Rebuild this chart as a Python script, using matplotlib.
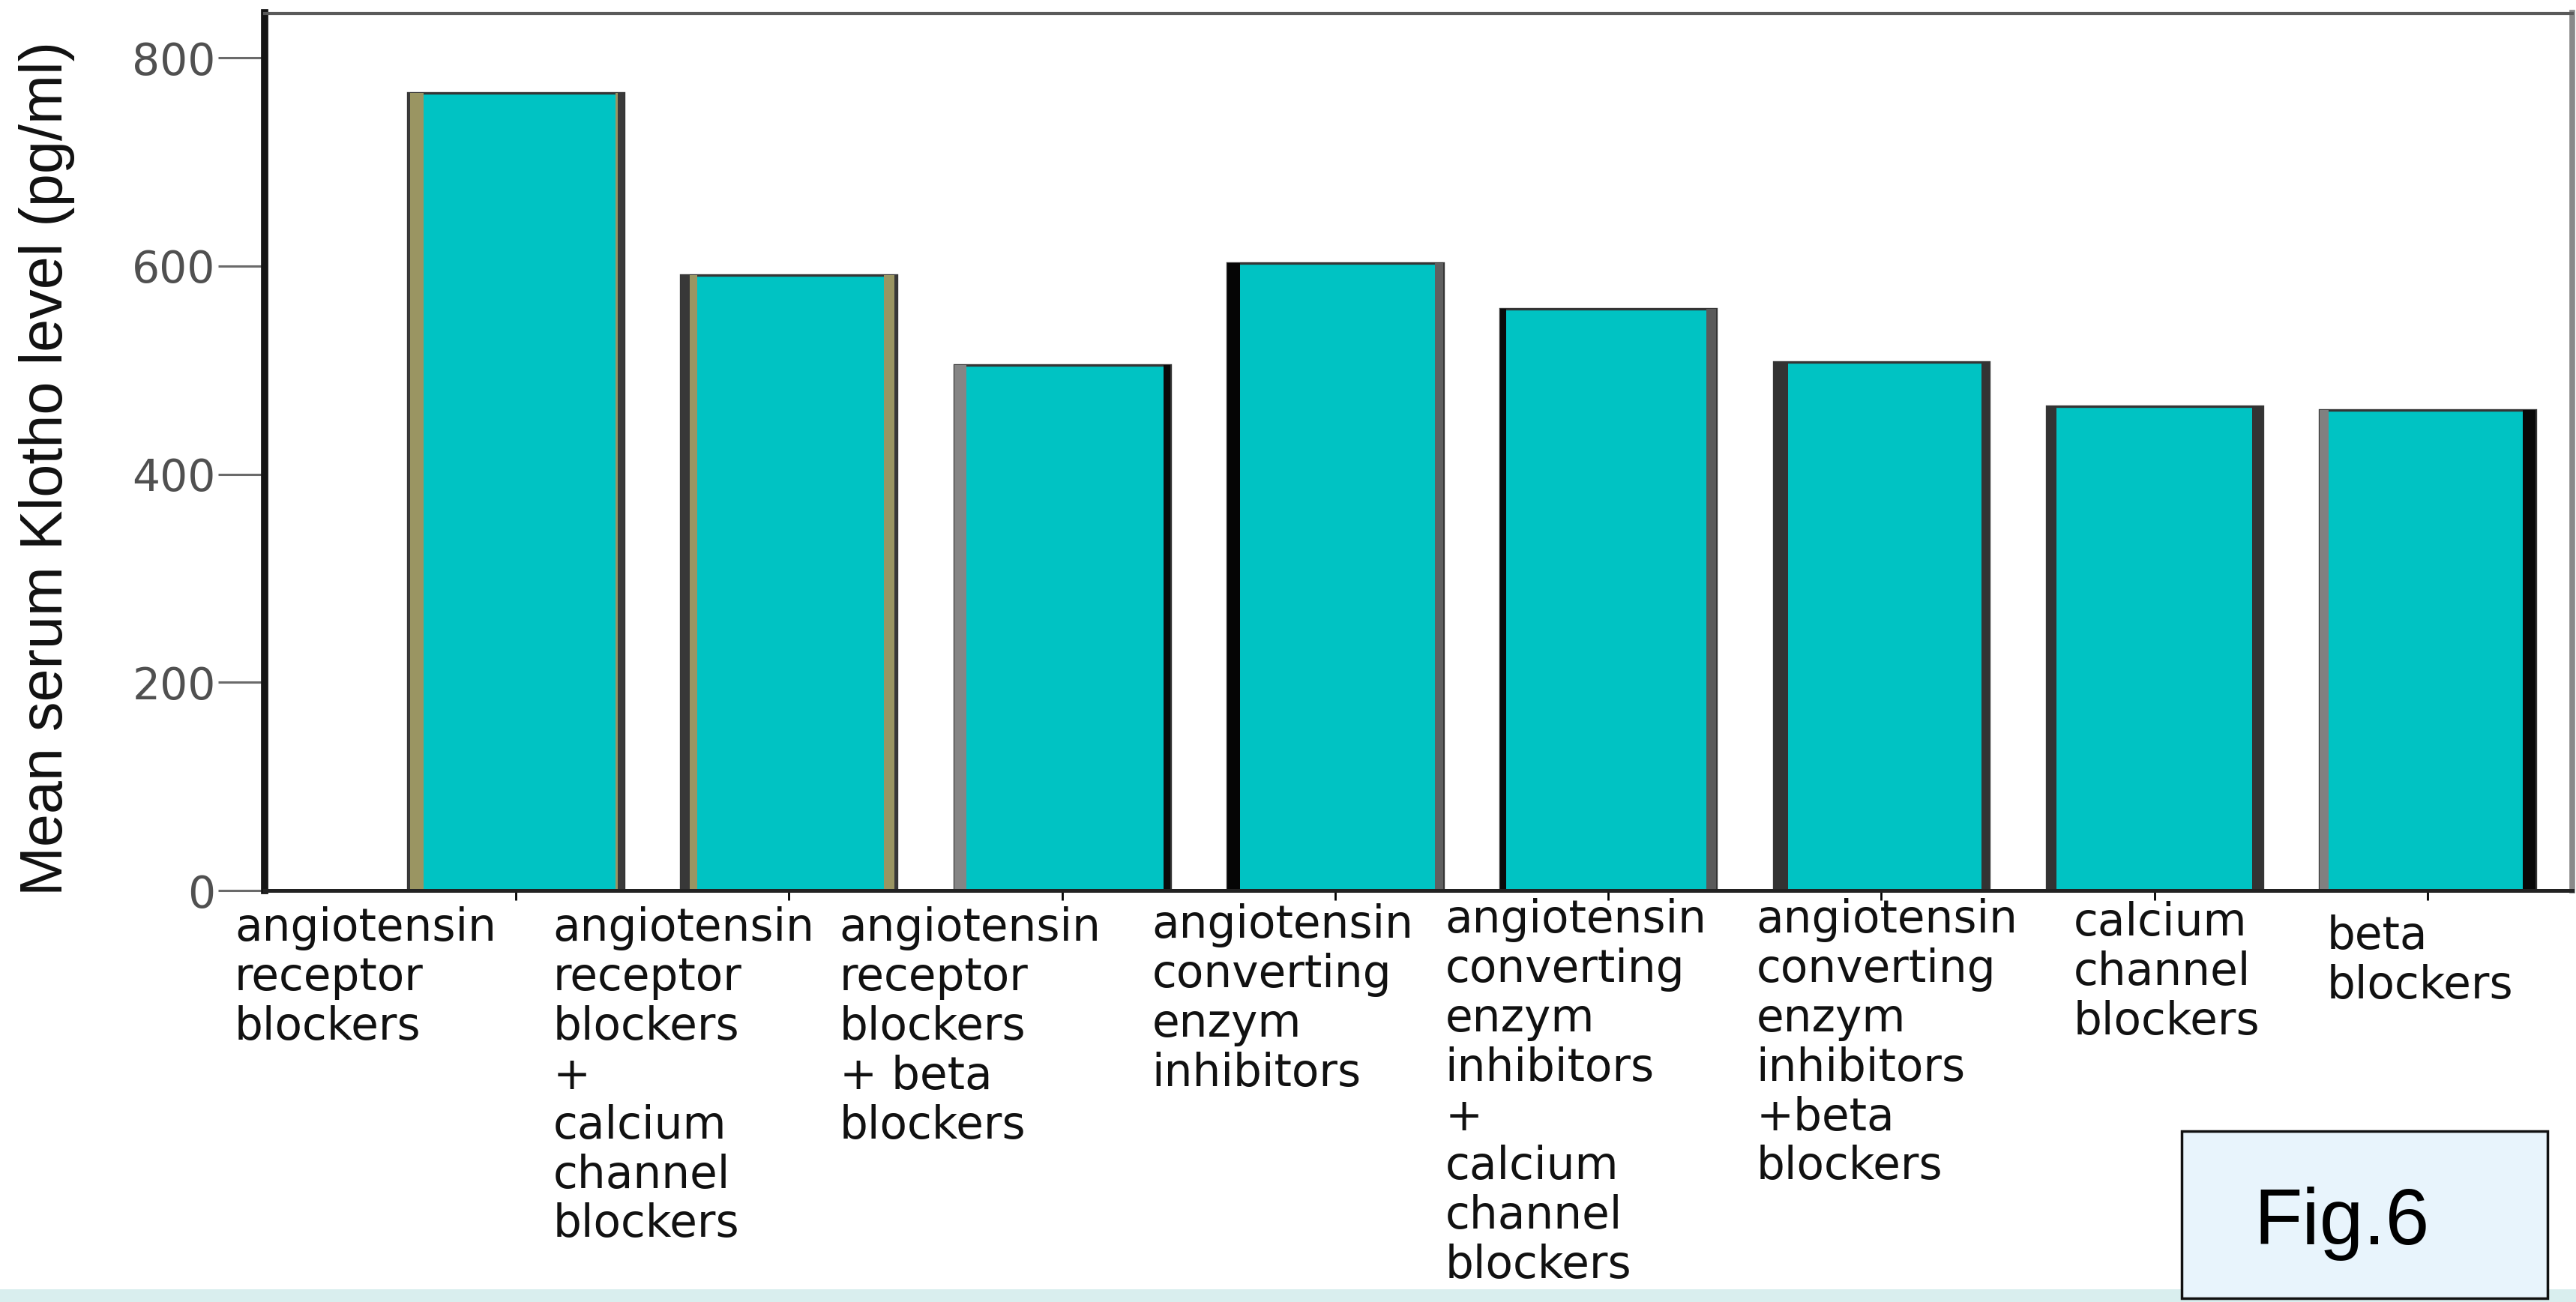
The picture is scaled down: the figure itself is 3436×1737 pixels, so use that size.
import matplotlib
matplotlib.use("Agg")
import matplotlib.pyplot as plt
from matplotlib.patches import Rectangle

# ---- data -------------------------------------------------------------
categories = [
    "angiotensin\nreceptor\nblockers",
    "angiotensin\nreceptor\nblockers\n+\ncalcium\nchannel\nblockers",
    "angiotensin\nreceptor\nblockers\n+ beta\nblockers",
    "angiotensin\nconverting\nenzym\ninhibitors",
    "angiotensin\nconverting\nenzym\ninhibitors\n+\ncalcium\nchannel\nblockers",
    "angiotensin\nconverting\nenzym\ninhibitors\n+beta\nblockers",
    "calcium\nchannel\nblockers",
    "beta\nblockers",
]
mean_klotho = [766, 591, 505, 603, 559, 508, 465, 462]
y_ticks = [0, 200, 400, 600, 800]
y_tick_labels = ["0", "200", "400", "600", "800"]
y_label = "Mean serum Klotho level (pg/ml)"
fig_label = "Fig.6"

# ---- styling ----------------------------------------------------------
W, H, DPI = 3437, 1737, 100
AX_L, AX_R, AX_T, AX_B = 353, 3431, 17.5, 1188
BAR_COLOR = "#00c3c3"
BAR_WIDTH = 0.79
OLIVE = "#9a9562"

# shaded side bands of each bar, listed from the outer edge inward (colour, px)
left_bands = [
    [("#3a3a3a", 3), (OLIVE, 18)],
    [("#383838", 12), (OLIVE, 10)],
    [("#858585", 16)],
    [("#050505", 17)],
    [("#0a0a0a", 8)],
    [("#333333", 19)],
    [("#333333", 13)],
    [("#808080", 12)],
]
right_bands = [
    [("#3a3a3a", 8), (OLIVE, 3)],
    [("#383838", 3), (OLIVE, 14)],
    [("#0a0a0a", 9)],
    [("#606060", 11)],
    [("#5a5a5a", 13)],
    [("#333333", 10)],
    [("#333333", 14)],
    [("#080808", 17)],
]
# horizontal shift of each category label (category units) and vertical nudge (px)
label_shift = [-1.03, -0.865, -0.815, -0.67, -0.598, -0.458, -0.296, -0.368]
label_dy_px = [0, 0, 0, -4, -11, -11, -7, 11]

fig = plt.figure(figsize=(W / DPI, H / DPI), dpi=DPI)
fig.patch.set_facecolor("white")

ax = fig.add_axes([AX_L / W, 1 - AX_B / H, (AX_R - AX_L) / W, (AX_B - AX_T) / H])
ax.set_facecolor("white")

x = list(range(len(categories)))
x_lo, x_hi = -0.92, 7.53
ax.set_xlim(x_lo, x_hi)
ax.set_ylim(0, 843)

ax.bar(x, mean_klotho, width=BAR_WIDTH, color=BAR_COLOR,
       edgecolor="#353535", linewidth=2.4, zorder=2)

# data units per pixel along x
upx = (x_hi - x_lo) / (AX_R - AX_L)
for i, v in enumerate(mean_klotho):
    edge = i - BAR_WIDTH / 2
    for col, px in left_bands[i]:
        ax.bar(edge, v, width=px * upx, align="edge", color=col,
               linewidth=0, zorder=3)
        edge += px * upx
    edge = i + BAR_WIDTH / 2
    for col, px in right_bands[i]:
        ax.bar(edge - px * upx, v, width=px * upx, align="edge", color=col,
               linewidth=0, zorder=3)
        edge -= px * upx

# ---- axes -------------------------------------------------------------
ax.set_yticks(y_ticks)
ax.set_yticklabels(y_tick_labels, family="DejaVu Sans")
ax.tick_params(axis="y", length=45, width=2.2, color="#6a6a6a",
               labelsize=42, labelcolor="#505050", pad=2)
ax.set_xticks(x)
ax.tick_params(axis="x", length=9, width=2, color="black",
               direction="out", labelbottom=False)

ax.spines["left"].set_linewidth(7)
ax.spines["left"].set_color("#151515")
ax.spines["bottom"].set_linewidth(3.6)
ax.spines["bottom"].set_color("#222222")
ax.spines["top"].set_linewidth(3)
ax.spines["top"].set_color("#5a5a5a")
ax.spines["right"].set_linewidth(5.5)
ax.spines["right"].set_color("#8a8a8a")
for s in ax.spines.values():
    s.set_zorder(4)

# category labels under the bars
ax_h_px = AX_B - AX_T
base_top_px = 1209
for i, lab in enumerate(categories):
    y_frac = (AX_B - (base_top_px + label_dy_px[i])) / ax_h_px
    ax.text(i + label_shift[i], y_frac, lab, transform=ax.get_xaxis_transform(),
            ha="left", va="top", fontsize=43, linespacing=1.15,
            family="DejaVu Sans", color="#111111", clip_on=False)

fig.text(63 / W, 1 - 625 / H, y_label, rotation=90, ha="center", va="center",
         fontsize=57, family="Liberation Sans", color="#111111")

# ---- bottom band and figure tag --------------------------------------
fig.patches.append(Rectangle((0, 0), 1, 17 / H, transform=fig.transFigure,
                             facecolor="#d9eeee", edgecolor="none", zorder=0))
fig.patches.append(Rectangle((2910 / W, 1 - 1732 / H), (3398 - 2910) / W,
                             (1732 - 1509) / H, transform=fig.transFigure,
                             facecolor="#e8f4fc", edgecolor="#111111",
                             linewidth=2.5, zorder=5))
fig.text(3124 / W, 1 - 1632 / H, fig_label, ha="center", va="center",
         fontsize=76, family="Liberation Sans", color="black", zorder=6)

fig.savefig("out.png", dpi=DPI, facecolor="white")
